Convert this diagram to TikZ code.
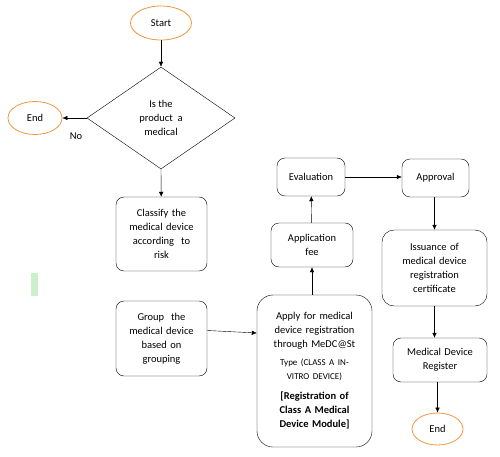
\documentclass[tikz,border=0pt]{standalone}
\usepackage{fontspec}
\setmainfont{Carlito}
\usepackage{tikz}
\usetikzlibrary{shapes.geometric}
\usetikzlibrary{arrows.meta}
\definecolor{termorange}{RGB}{242,150,62}
\definecolor{markgreen}{RGB}{204,240,204}

\begin{document}
\begin{tikzpicture}[x=1pt,y=-1pt,
    box/.style={draw,rounded corners=8pt,align=center,inner sep=0pt,font=\fontsize{10.5}{14}\selectfont},
    term/.style={draw=termorange,thick,ellipse,inner sep=0pt,font=\fontsize{10.5}{14}\selectfont},
    arr/.style={-{Latex[length=5pt,width=4.5pt]}}]
  \useasboundingbox (0,0) rectangle (500,457);%

  % start and question
  \node[term,minimum width=61pt,minimum height=34pt] (start) at (161,23) {Start};%
  \node[draw,diamond,inner sep=0pt,minimum width=148pt,minimum height=102pt,align=center,
    font=\fontsize{10.5}{14}\selectfont] (ask) at (161,118) {Is the\\product\ \ a\\medical};%
  \node[term,minimum width=54pt,minimum height=33pt] (end1) at (35,118) {End};%
  \node[font=\fontsize{10.5}{14}\selectfont] (no) at (76,136) {No};%
  \draw[arr] (start) -- (ask);%
  \draw[arr] (ask.west) -- (end1);%

  % left column
  \node[box,text width=91pt,minimum height=74pt] (classify) at (161.5,234)
    {Classify the\\medical device\\according\ \ to\\risk};%
  \node[box,text width=91pt,minimum height=75pt] (group) at (161.5,338.5)
    {Group\ \ the\\medical device\\based on\\grouping};%
  \fill[markgreen] (31,273) rectangle (38,296);%
  \draw[arr] (ask.south) -- (classify);%

  % middle column
  \node[box,rounded corners=16pt,text width=115pt,minimum height=152pt] (apply) at (314.5,371)
    {Apply for medical\\device registration\\through MeDC@St\\[5pt]
     {\fontsize{9}{13}\selectfont Type (CLASS A IN-\\VITRO DEVICE)}\\[6pt]
     \textbf{[Registration of\\Class A Medical\\Device Module]}};%
  \node[box,text width=82pt,minimum height=44pt] (fee) at (312,245) {Application\\fee};%
  \node[box,text width=68pt,minimum height=38pt] (eval) at (311,177) {Evaluation};%
  \draw[arr] ([yshift=8pt]group.east) -- ([yshift=38pt]apply.west);%
  \draw[arr] (apply.north -| fee) -- (fee);%
  \draw[arr] (fee) -- (eval);%

  % right column
  \node[box,text width=67pt,minimum height=38pt] (approve) at (435.5,178) {Approval};%
  \node[box,rounded corners=12pt,text width=105pt,minimum height=76pt] (issue) at (434.5,268)
    {Issuance of\\medical device\\registration\\certificate};%
  \node[box,text width=94pt,minimum height=44pt] (register) at (440,360) {Medical Device\\Register};%
  \node[term,minimum width=51pt,minimum height=32pt] (end2) at (437.5,429) {End};%
  \draw[arr] (eval.east) -- (eval.east -| approve.west);%
  \draw[arr] (approve.south -| issue) -- (issue);%
  \draw[arr] (issue.south) -- (issue.south |- register.north);%
  \draw[arr] (register.south -| end2) -- (end2);%
\end{tikzpicture}
\end{document}
